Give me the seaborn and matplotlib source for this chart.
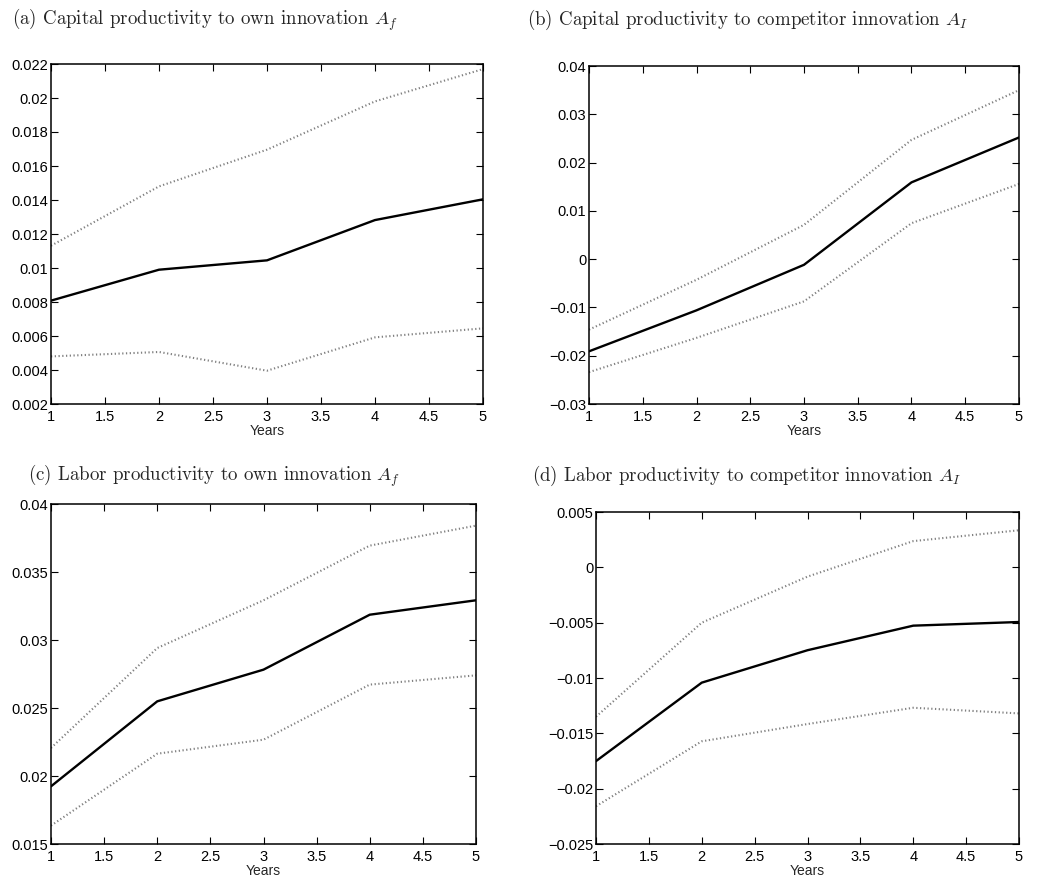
import pandas as pd
import seaborn as sns
import matplotlib.pyplot as plt
from matplotlib.ticker import FuncFormatter, MultipleLocator

sns.set_style("ticks")
plt.rcParams["font.family"] = ["Liberation Sans", "DejaVu Sans"]
plt.rcParams["mathtext.fontset"] = "cm"

years = [1, 2, 3, 4, 5]

# (a) capital productivity to own innovation
cap_own = [0.00808, 0.0099, 0.01045, 0.01282, 0.01404]
cap_own_hi = [0.01131, 0.0148, 0.01696, 0.0198, 0.0217]
cap_own_lo = [0.0048, 0.00506, 0.00396, 0.00592, 0.00645]

# (b) capital productivity to competitor innovation
cap_comp = [-0.01909, -0.0106, -0.00117, 0.0159, 0.0252]
cap_comp_hi = [-0.0146, -0.00427, 0.0071, 0.0247, 0.035]
cap_comp_lo = [-0.0234, -0.0163, -0.00875, 0.00744, 0.01557]

# (c) labor productivity to own innovation
lab_own = [0.01924, 0.02549, 0.02782, 0.03186, 0.03292]
lab_own_hi = [0.02206, 0.02941, 0.03292, 0.03694, 0.03841]
lab_own_lo = [0.01635, 0.02164, 0.02267, 0.02672, 0.0274]

# (d) labor productivity to competitor innovation
lab_comp = [-0.01751, -0.01042, -0.00749, -0.00527, -0.00494]
lab_comp_hi = [-0.0135, -0.005, -0.00084, 0.00237, 0.00335]
lab_comp_lo = [-0.02159, -0.01572, -0.01416, -0.01269, -0.0132]

captions = [
    r"(a) Capital productivity to own innovation $A_f$",
    r"(b) Capital productivity to competitor innovation $A_I$",
    r"(c) Labor productivity to own innovation $A_f$",
    r"(d) Labor productivity to competitor innovation $A_I$",
]

W, H = 1053, 880
fig = plt.figure(figsize=(W / 100, H / 100), dpi=100)


def px_axes(left, top, right, bottom):
    return fig.add_axes([left / W, 1 - bottom / H, (right - left) / W, (bottom - top) / H])


def fmt(v, pos):
    s = "%g" % round(v, 6)
    if s == "-0":
        s = "0"
    return s.replace("-", "\u2212")


panels = [
    (px_axes(51, 64, 483, 404), cap_own, cap_own_hi, cap_own_lo, (0.002, 0.022), 0.002),
    (px_axes(589, 66, 1019, 404), cap_comp, cap_comp_hi, cap_comp_lo, (-0.03, 0.04), 0.01),
    (px_axes(51, 504, 476, 844), lab_own, lab_own_hi, lab_own_lo, (0.015, 0.04), 0.005),
    (px_axes(596, 512, 1019, 844), lab_comp, lab_comp_hi, lab_comp_lo, (-0.025, 0.005), 0.005),
]

for ax, mid, hi, lo, ylim, step in panels:
    df = pd.DataFrame({"Years": years, "mid": mid, "hi": hi, "lo": lo})
    for col in ["hi", "lo"]:
        sns.lineplot(data=df, x="Years", y=col, ax=ax, color="0.5", lw=1.5,
                     dashes=False, linestyle=(0, (0.6, 1.2)))
    sns.lineplot(data=df, x="Years", y="mid", ax=ax, color="black", lw=1.7)
    ax.set_xlim(1, 5)
    ax.set_ylim(*ylim)
    ax.xaxis.set_major_locator(MultipleLocator(0.5))
    ax.yaxis.set_major_locator(MultipleLocator(step))
    ax.xaxis.set_major_formatter(FuncFormatter(fmt))
    ax.yaxis.set_major_formatter(FuncFormatter(fmt))
    ax.tick_params(direction="in", top=True, right=True, length=5, width=0.8,
                   labelsize=10.5, colors="black")
    ax.tick_params(axis="x", pad=4)
    ax.tick_params(axis="y", pad=2)
    ax.set_xlabel("Years", fontsize=10, labelpad=0)
    ax.set_ylabel("")
    for sp in ax.spines.values():
        sp.set_visible(True)
        sp.set_linewidth(1.1)
        sp.set_color("black")

cap_pos = [(12, 20), (527, 20), (28, 476), (532, 476)]
for (x, y), txt in zip(cap_pos, captions):
    fig.text(x / W, 1 - y / H, txt, family="cmr10", fontsize=13.6,
             ha="left", va="center")

fig.savefig("out.png", dpi=100)
